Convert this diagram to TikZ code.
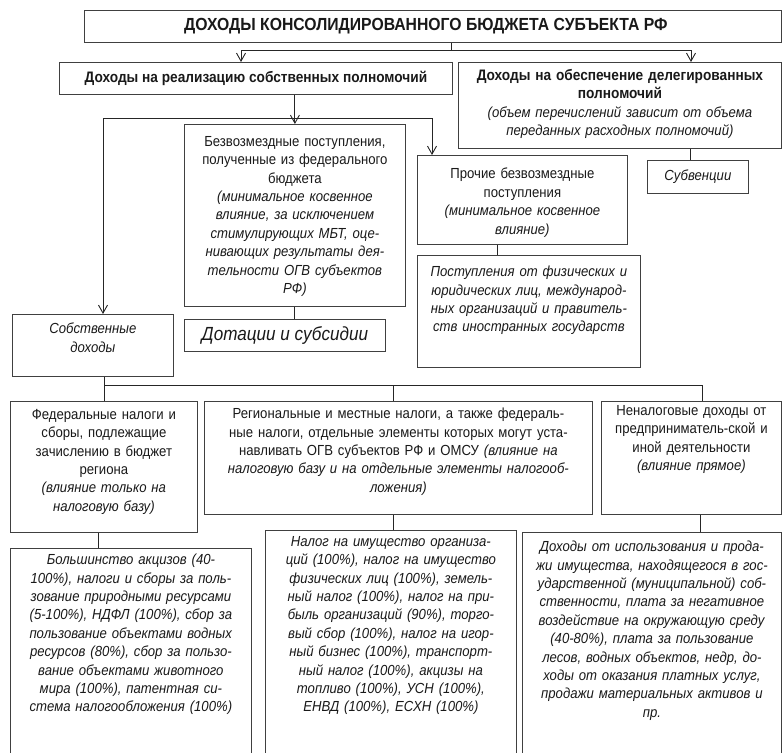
\documentclass[tikz,border=0pt]{standalone}
\usepackage{fontspec}
\setmainfont[FakeStretch=0.9]{Liberation Sans}
\usetikzlibrary{arrows.meta}

\begin{document}
\begin{tikzpicture}[x=1pt,y=-1pt,
	box/.style={draw=black!75,line width=0.8pt,anchor=north west,inner sep=0pt},
	txt/.style={anchor=north,align=center,inner sep=0pt,text=black!90,font=\fontsize{14.6}{18.4}\selectfont},
	conn/.style={draw=black!85,line width=0.9pt},
	arr/.style={conn,-{Straight Barb[length=8pt,width=9pt]}}]
		\useasboundingbox (0,0) rectangle (783,752);
		\clip (0,0) rectangle (783,752);
		\node[box,minimum width=697pt,minimum height=32pt] (title) at (84,10) {};
		\node[box,minimum width=393pt,minimum height=32pt] (own) at (59,62) {};
		\node[box,minimum width=323pt,minimum height=86pt] (deleg) at (458,62) {};
		\node[box,minimum width=221pt,minimum height=182pt] (bezv) at (184,124) {};
		\node[box,minimum width=201pt,minimum height=32pt] (dot) at (184,319) {};
		\node[box,minimum width=161pt,minimum height=62pt] (sob) at (12,314) {};
		\node[box,minimum width=210pt,minimum height=89pt] (proch) at (417,155) {};
		\node[box,minimum width=223pt,minimum height=112pt] (post) at (417,255) {};
		\node[box,minimum width=101pt,minimum height=33pt] (subv) at (647,160) {};
		\node[box,minimum width=187pt,minimum height=131pt] (fed) at (10,401) {};
		\node[box,minimum width=388pt,minimum height=113pt] (reg) at (204,401) {};
		\node[box,minimum width=180pt,minimum height=113pt] (nenal) at (601,401) {};
		\node[box,minimum width=241pt,minimum height=240pt] (bolsh) at (10,548) {};
		\node[box,minimum width=251pt,minimum height=240pt] (nalog) at (265,530) {};
		\node[box,minimum width=259pt,minimum height=240pt] (dohod) at (522,532) {};

		\node[txt,anchor=center,font=\bfseries\fontsize{17.5}{20}\selectfont] (title-t) at ([xshift=-7pt]title.center) {ДОХОДЫ КОНСОЛИДИРОВАННОГО БЮДЖЕТА СУБЪЕКТА РФ};
		\node[txt,anchor=center,font=\bfseries\fontsize{15.2}{18}\selectfont] (own-t) at (own.center) {Доходы на реализацию собственных полномочий};
		\node[txt,text width=318pt] (deleg-t) at ([yshift=-7pt]deleg.north) {{\bfseries\fontsize{15.2}{18.4}\selectfont Доходы на обеспечение делегированных\\полномочий}\\\textit{(объем перечислений зависит от объема}\\\textit{переданных расходных полномочий)}};
		\node[txt,text width=216pt] (bezv-t) at ([yshift=-12pt]bezv.north) {Безвозмездные поступления,\\полученные из федерального\\бюджета\\\textit{(минимальное косвенное}\\\textit{влияние, за исключением}\\\textit{стимулирующих МБТ, оце-}\\\textit{нивающих результаты дея-}\\\textit{тельности ОГВ субъектов}\\\textit{РФ)}};
		\node[txt,anchor=center,font=\itshape\fontsize{19}{22}\selectfont] (dot-t) at (dot.center) {Дотации и субсидии};
		\node[txt,text width=156pt] (sob-t) at ([yshift=-9pt]sob.north) {\textit{Собственные}\\\textit{доходы}};
		\node[txt,text width=205pt] (proch-t) at ([yshift=-13pt]proch.north) {Прочие безвозмездные\\поступления\\\textit{(минимальное косвенное}\\\textit{влияние)}};
		\node[txt,text width=218pt] (post-t) at ([yshift=-11pt]post.north) {\textit{Поступления от физических и}\\\textit{юридических лиц, международ-}\\\textit{ных организаций и правитель-}\\\textit{ств иностранных государств}};
		\node[txt,anchor=center] (subv-t) at (subv.center) {\textit{Субвенции}};
		\node[txt,text width=182pt] (fed-t) at ([yshift=-8pt]fed.north) {Федеральные налоги и\\сборы, подлежащие\\зачислению в бюджет\\региона\\\textit{(влияние только на}\\\textit{налоговую базу)}};
		\node[txt,text width=383pt] (reg-t) at ([yshift=-7pt]reg.north) {Региональные и местные налоги, а также федераль-\\ные налоги, отдельные элементы которых могут уста-\\навливать ОГВ субъектов РФ и ОМСУ \textit{(влияние на}\\\textit{налоговую базу и на отдельные элементы налогооб-}\\\textit{ложения)}};
		\node[txt,text width=175pt] (nenal-t) at ([yshift=-4pt]nenal.north) {Неналоговые доходы от\\предприниматель-ской и\\иной деятельности\\\textit{(влияние прямое)}};
		\node[txt,text width=236pt] (bolsh-t) at ([yshift=-6pt]bolsh.north) {\textit{Большинство акцизов (40-}\\\textit{100\%), налоги и сборы за поль-}\\\textit{зование природными ресурсами}\\\textit{(5-100\%), НДФЛ (100\%), сбор за}\\\textit{пользование объектами водных}\\\textit{ресурсов (80\%), сбор за пользо-}\\\textit{вание объектами животного}\\\textit{мира (100\%), патентная си-}\\\textit{стема налогообложения (100\%)}};
		\node[txt,text width=246pt] (nalog-t) at ([yshift=-6pt]nalog.north) {\textit{Налог на имущество организа-}\\\textit{ций (100\%), налог на имущество}\\\textit{физических лиц (100\%), земель-}\\\textit{ный налог (100\%), налог на при-}\\\textit{быль организаций (90\%), торго-}\\\textit{вый сбор (100\%), налог на игор-}\\\textit{ный бизнес (100\%), транспорт-}\\\textit{ный налог (100\%), акцизы на}\\\textit{топливо (100\%), УСН (100\%),}\\\textit{ЕНВД (100\%), ЕСХН (100\%)}};
		\node[txt,text width=254pt] (dohod-t) at ([yshift=-9pt]dohod.north) {\textit{Доходы от использования и прода-}\\\textit{жи имущества, находящегося в гос-}\\\textit{ударственной (муниципальной) соб-}\\\textit{ственности, плата за негативное}\\\textit{воздействие на окружающую среду}\\\textit{(40-80\%), плата за пользование}\\\textit{лесов, водных объектов, недр, до-}\\\textit{ходы от оказания платных услуг,}\\\textit{продажи материальных активов и}\\\textit{пр.}};

		\coordinate (t1) at (451,50);
		\draw[conn] (t1 |- title.south) -- (t1);
		\draw[arr] (t1) -| (241,0 |- own.north);
		\draw[arr] (t1) -| (691,0 |- deleg.north);
		\draw[arr] (own.south -| bezv.north) -- (bezv.north);
		\coordinate (t2) at (bezv.north |- 0,118);
		\draw[arr] (t2) -| (103,0 |- sob.north);
		\draw[arr] (t2) -| (432,0 |- proch.north);
		\draw[conn] (bezv.south) -- (bezv.south |- dot.north);
		\draw[conn] (690,0 |- deleg.south) -- (690,0 |- subv.north);
		\draw[conn] (497,0 |- proch.south) -- (497,0 |- post.north);
		\coordinate (t3) at (104,385);
		\coordinate (t4) at (393,385);
		\coordinate (t5) at (702,385);
		\draw[conn] (t3 |- sob.south) -- (t3) -- (t5);
		\draw[conn] (t3) -- (t3 |- fed.north);
		\draw[conn] (t4) -- (t4 |- reg.north);
		\draw[conn] (t5) -- (t5 |- nenal.north);
		\draw[conn] (98,0 |- fed.south) -- (98,0 |- bolsh.north);
		\draw[conn] (t4 |- reg.south) -- (t4 |- nalog.north);
		\draw[conn] (700,0 |- nenal.south) -- (700,0 |- dohod.north);
\end{tikzpicture}
\end{document}
